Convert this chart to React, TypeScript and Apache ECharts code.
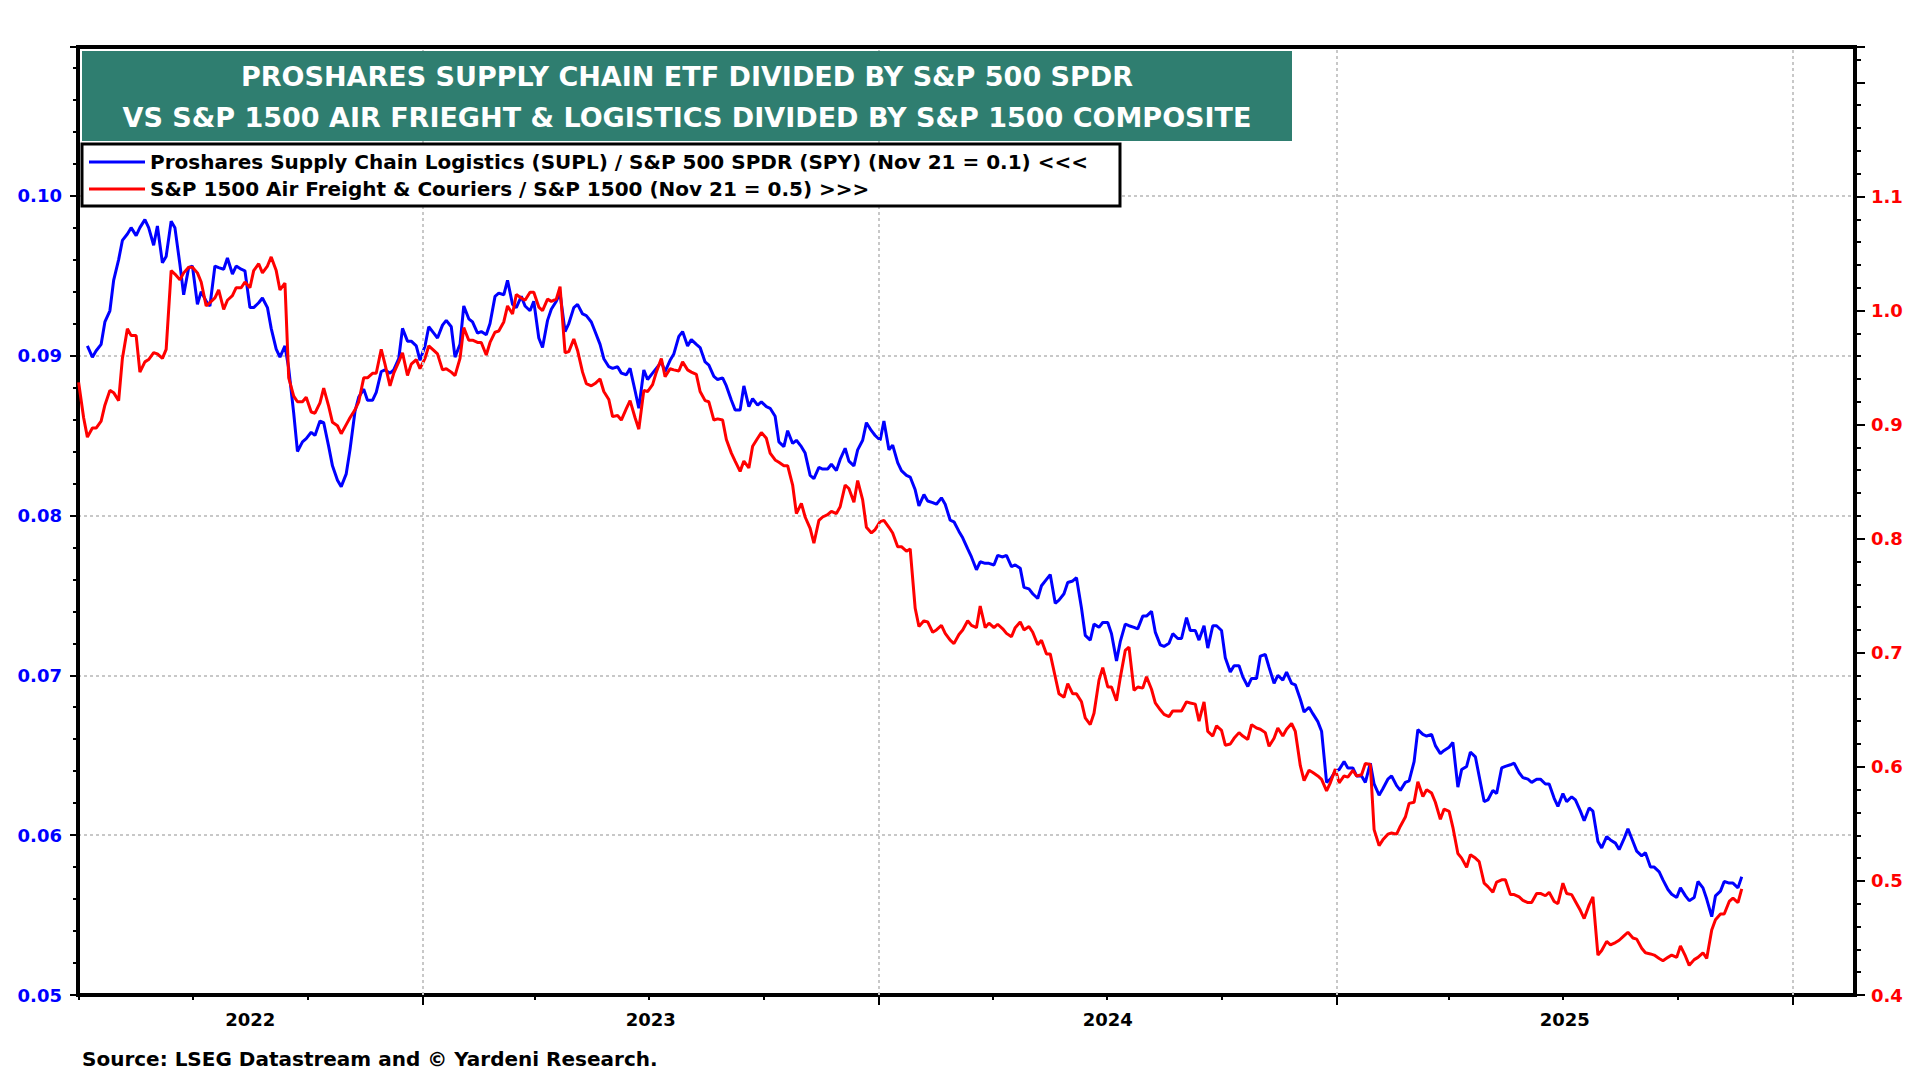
import React, { useEffect, useRef } from "react";
import * as echarts from "echarts";

const titleLines = [
  "PROSHARES SUPPLY CHAIN ETF DIVIDED BY S&P 500 SPDR",
  "VS S&P 1500 AIR FRIEGHT & LOGISTICS DIVIDED BY S&P 1500 COMPOSITE",
];
const seriesNames = [
  "Proshares Supply Chain Logistics (SUPL) / S&P 500 SPDR (SPY) (Nov 21 = 0.1) <<<",
  "S&P 1500 Air Freight & Couriers / S&P 1500 (Nov 21 = 0.5) >>>",
];
const sourceText = "Source: LSEG Datastream and \u00A9 Yardeni Research.";
const yearLabels = ["2022", "2023", "2024", "2025"];

// Observation calendar: Tuesday and Friday closes
const firstObs = "2022-04-01";
const lastObs = "2025-11-21";

// SUPL / SPY ratio (left axis)
const suplValues = [
  null, null, 0.0906, 0.0899, 0.0903, 0.0907, 0.0921, 0.0928, 0.0947, 0.0960,
  0.0972, 0.0976, 0.0980, 0.0975, 0.0980, 0.0985, 0.0980, 0.0969, 0.0981, 0.0958,
  0.0962, 0.0984, 0.0980, 0.0957, 0.0938, 0.0955, 0.0956, 0.0932, 0.0940, 0.0934,
  0.0931, 0.0956, 0.0955, 0.0954, 0.0961, 0.0951, 0.0956, 0.0954, 0.0953, 0.0930,
  0.0930, 0.0933, 0.0936, 0.0930, 0.0917, 0.0904, 0.0899, 0.0906, 0.0892, 0.0864,
  0.0840, 0.0846, 0.0848, 0.0852, 0.0850, 0.0859, 0.0858, 0.0843, 0.0831, 0.0822,
  0.0818, 0.0826, 0.0841, 0.0865, 0.0874, 0.0879, 0.0872, 0.0872, 0.0877, 0.0890,
  0.0891, 0.0889, 0.0891, 0.0898, 0.0917, 0.0909, 0.0909, 0.0906, 0.0897, 0.0906,
  0.0918, 0.0914, 0.0911, 0.0919, 0.0922, 0.0918, 0.0899, 0.0907, 0.0931, 0.0923,
  0.0921, 0.0914, 0.0915, 0.0913, 0.0920, 0.0937, 0.0939, 0.0938, 0.0947, 0.0932,
  0.0930, 0.0937, 0.0931, 0.0928, 0.0934, 0.0911, 0.0905, 0.0922, 0.0929, 0.0934,
  0.0939, 0.0915, 0.0920, 0.0930, 0.0932, 0.0926, 0.0925, 0.0921, 0.0915, 0.0907,
  0.0898, 0.0893, 0.0892, 0.0893, 0.0889, 0.0888, 0.0892, 0.0878, 0.0867, 0.0891,
  0.0885, 0.0889, 0.0892, 0.0896, 0.0890, 0.0897, 0.0901, 0.0912, 0.0915, 0.0906,
  0.0910, 0.0907, 0.0905, 0.0896, 0.0894, 0.0887, 0.0885, 0.0886, 0.0881, 0.0872,
  0.0866, 0.0866, 0.0881, 0.0868, 0.0873, 0.0869, 0.0871, 0.0868, 0.0867, 0.0862,
  0.0846, 0.0843, 0.0853, 0.0845, 0.0847, 0.0843, 0.0839, 0.0825, 0.0823, 0.0830,
  0.0829, 0.0829, 0.0832, 0.0828, 0.0835, 0.0842, 0.0834, 0.0831, 0.0841, 0.0847,
  0.0858, 0.0853, 0.0850, 0.0847, 0.0859, 0.0841, 0.0844, 0.0833, 0.0828, 0.0825,
  0.0824, 0.0816, 0.0806, 0.0813, 0.0809, 0.0808, 0.0807, 0.0811, 0.0807, 0.0797,
  0.0796, 0.0790, 0.0786, 0.0779, 0.0774, 0.0766, 0.0771, 0.0770, 0.0770, 0.0769,
  0.0775, 0.0774, 0.0775, 0.0768, 0.0769, 0.0767, 0.0755, 0.0754, 0.0751, 0.0748,
  0.0756, 0.0760, 0.0763, 0.0745, 0.0747, 0.0751, 0.0758, 0.0759, 0.0761, 0.0742,
  0.0725, 0.0722, 0.0732, 0.0730, 0.0733, 0.0733, 0.0726, 0.0709, 0.0721, 0.0732,
  0.0731, 0.0730, 0.0729, 0.0737, 0.0737, 0.0740, 0.0727, 0.0719, 0.0718, 0.0720,
  0.0726, 0.0723, 0.0723, 0.0736, 0.0728, 0.0728, 0.0722, 0.0731, 0.0717, 0.0731,
  0.0731, 0.0728, 0.0711, 0.0702, 0.0706, 0.0706, 0.0699, 0.0693, 0.0698, 0.0698,
  0.0712, 0.0713, 0.0705, 0.0695, 0.0700, 0.0697, 0.0702, 0.0695, 0.0694, 0.0685,
  0.0677, 0.0680, 0.0676, 0.0671, 0.0665, 0.0633, 0.0635, 0.0640, 0.0641, 0.0646,
  0.0642, 0.0642, 0.0637, 0.0637, 0.0633, 0.0645, 0.0632, 0.0625, 0.0629, 0.0635,
  0.0637, 0.0631, 0.0628, 0.0633, 0.0634, 0.0646, 0.0666, 0.0663, 0.0662, 0.0663,
  0.0656, 0.0651, 0.0653, 0.0655, 0.0658, 0.0630, 0.0641, 0.0643, 0.0652, 0.0649,
  0.0637, 0.0621, 0.0622, 0.0628, 0.0626, 0.0642, 0.0643, 0.0644, 0.0645, 0.0639,
  0.0636, 0.0635, 0.0633, 0.0635, 0.0635, 0.0632, 0.0632, 0.0623, 0.0618, 0.0626,
  0.0621, 0.0624, 0.0622, 0.0615, 0.0609, 0.0617, 0.0615, 0.0596, 0.0592, 0.0599,
  0.0597, 0.0595, 0.0591, 0.0598, 0.0604, 0.0596, 0.0590, 0.0587, 0.0589, 0.0580,
  0.0580, 0.0577, 0.0572, 0.0566, 0.0563, 0.0561, 0.0567, 0.0562, 0.0559, 0.0561,
  0.0571, 0.0567, 0.0560, 0.0549, 0.0562, 0.0565, 0.0571, 0.0570, 0.0570, 0.0567,
  0.0574,
];

// S&P 1500 Air Freight & Couriers / S&P 1500 (right axis)
const airValues = [
  0.937, 0.906, 0.889, 0.897, 0.897, 0.903, 0.917, 0.930, 0.928, 0.921,
  0.958, 0.984, 0.978, 0.978, 0.946, 0.955, 0.957, 0.963, 0.962, 0.958,
  0.966, 1.035, 1.032, 1.027, 1.033, 1.038, 1.038, 1.033, 1.025, 1.004,
  1.007, 1.011, 1.018, 1.001, 1.009, 1.013, 1.020, 1.020, 1.025, 1.020,
  1.035, 1.041, 1.033, 1.039, 1.047, 1.035, 1.018, 1.024, 0.941, 0.925,
  0.920, 0.920, 0.924, 0.911, 0.910, 0.919, 0.932, 0.916, 0.902, 0.899,
  0.892, 0.900, 0.906, 0.913, 0.920, 0.941, 0.941, 0.945, 0.945, 0.966,
  0.953, 0.934, 0.945, 0.955, 0.963, 0.943, 0.953, 0.957, 0.949, 0.958,
  0.969, 0.965, 0.962, 0.948, 0.949, 0.946, 0.943, 0.958, 0.985, 0.974,
  0.974, 0.972, 0.972, 0.961, 0.972, 0.981, 0.982, 0.990, 1.004, 0.997,
  1.014, 1.011, 1.009, 1.016, 1.016, 1.003, 1.000, 1.010, 1.008, 1.010,
  1.021, 0.963, 0.964, 0.975, 0.965, 0.946, 0.936, 0.934, 0.936, 0.940,
  0.929, 0.922, 0.907, 0.908, 0.904, 0.914, 0.921, 0.906, 0.896, 0.930,
  0.929, 0.935, 0.946, 0.958, 0.942, 0.949, 0.948, 0.947, 0.955, 0.948,
  0.946, 0.944, 0.929, 0.921, 0.920, 0.904, 0.905, 0.904, 0.887, 0.875,
  0.868, 0.859, 0.868, 0.862, 0.881, 0.888, 0.893, 0.888, 0.875, 0.869,
  0.867, 0.864, 0.864, 0.847, 0.822, 0.831, 0.819, 0.809, 0.796, 0.816,
  0.819, 0.821, 0.824, 0.822, 0.828, 0.847, 0.844, 0.832, 0.851, 0.834,
  0.810, 0.805, 0.808, 0.815, 0.816, 0.810, 0.805, 0.793, 0.793, 0.789,
  0.791, 0.739, 0.723, 0.728, 0.727, 0.718, 0.720, 0.724, 0.717, 0.711,
  0.708, 0.716, 0.720, 0.728, 0.724, 0.722, 0.741, 0.722, 0.726, 0.722,
  0.725, 0.721, 0.717, 0.714, 0.722, 0.727, 0.720, 0.723, 0.718, 0.707,
  0.711, 0.699, 0.699, 0.679, 0.664, 0.661, 0.673, 0.664, 0.664, 0.657,
  0.643, 0.637, 0.647, 0.676, 0.687, 0.670, 0.670, 0.658, 0.678, 0.702,
  0.705, 0.667, 0.670, 0.669, 0.679, 0.668, 0.656, 0.650, 0.646, 0.644,
  0.649, 0.649, 0.649, 0.657, 0.656, 0.655, 0.640, 0.657, 0.631, 0.627,
  0.636, 0.632, 0.619, 0.620, 0.625, 0.630, 0.627, 0.624, 0.637, 0.634,
  0.633, 0.630, 0.618, 0.625, 0.634, 0.627, 0.633, 0.638, 0.631, 0.601,
  0.588, 0.597, 0.595, 0.592, 0.589, 0.579, 0.586, 0.598, 0.586, 0.592,
  0.591, 0.597, 0.592, 0.593, 0.603, 0.602, 0.545, 0.531, 0.536, 0.541,
  0.542, 0.541, 0.548, 0.556, 0.568, 0.569, 0.587, 0.574, 0.580, 0.577,
  0.569, 0.554, 0.563, 0.561, 0.547, 0.524, 0.520, 0.512, 0.523, 0.520,
  0.517, 0.498, 0.495, 0.490, 0.499, 0.501, 0.501, 0.488, 0.488, 0.486,
  0.483, 0.481, 0.481, 0.489, 0.489, 0.487, 0.490, 0.482, 0.480, 0.498,
  0.489, 0.488, 0.482, 0.474, 0.467, 0.479, 0.486, 0.435, 0.439, 0.447,
  0.444, 0.446, 0.448, 0.452, 0.455, 0.450, 0.449, 0.441, 0.437, 0.436,
  0.435, 0.432, 0.430, 0.433, 0.435, 0.433, 0.443, 0.434, 0.426, 0.431,
  0.433, 0.437, 0.432, 0.457, 0.466, 0.471, 0.471, 0.482, 0.485, 0.481,
  0.493,
];

const FONT = "'DejaVu Sans', sans-serif";
const DAY = 86400000;
const X_MIN = Date.UTC(2022, 2, 31, 12);
const X_MAX = Date.UTC(2026, 1, 19, 14);

function buildObsDates(first: string, last: string): number[] {
  const out: number[] = [];
  const end = Date.parse(last + "T00:00:00Z");
  for (let t = Date.parse(first + "T00:00:00Z"); t <= end; t += DAY) {
    const wd = new Date(t).getUTCDay();
    if (wd === 2 || wd === 5) out.push(t);
  }
  return out;
}

function toPairs(dates: number[], values: (number | null)[]) {
  const out: [number, number][] = [];
  const n = Math.min(dates.length, values.length);
  for (let i = 0; i < n; i++) {
    const v = values[i];
    if (v !== null) out.push([dates[i], v]);
  }
  return out;
}

function buildOption() {
  const dates = buildObsDates(firstObs, lastObs);
  const quarterTicks: number[] = [];
  const yearTicks: number[] = [];
  for (let y = 2022; y <= 2026; y++) {
    for (const m of [0, 3, 6, 9]) {
      const t = Date.UTC(y, m, 1);
      if (t < X_MIN || t > X_MAX) continue;
      if (m === 0) yearTicks.push(t);
      else quarterTicks.push(t);
    }
  }
  const yearLabelPos = yearLabels.map((ys) => {
    const y = Number(ys);
    const s = Math.max(Date.UTC(y, 0, 1), X_MIN);
    const e = Math.min(Date.UTC(y + 1, 0, 1), X_MAX);
    return (s + e) / 2;
  });

  const axisLineStyle = { color: "#000", width: 4 };
  const gridLineStyle = { color: "#c8c8c8", width: 2, type: [3, 3] as any };

  return {
    animation: false,
    backgroundColor: "#ffffff",
    grid: {
      left: 78,
      right: 65,
      top: 47,
      bottom: 85,
      show: true,
      borderColor: "#000",
      borderWidth: 4,
      backgroundColor: "transparent",
      containLabel: false,
      outerBoundsMode: "none",
    },
    legend: {
      data: seriesNames,
      orient: "vertical",
      left: 82,
      top: 144,
      padding: [7, 32, 6, 7],
      itemGap: 5,
      itemWidth: 56,
      itemHeight: 3,
      icon: "rect",
      backgroundColor: "#ffffff",
      borderColor: "#000",
      borderWidth: 3,
      borderRadius: 0,
      selectedMode: false,
      z: 20,
      textStyle: {
        fontFamily: FONT,
        fontWeight: "bold",
        fontSize: 20,
        color: "#000",
        lineHeight: 22,
      },
    },
    xAxis: [
      {
        type: "value",
        min: X_MIN,
        max: X_MAX,
        position: "bottom",
        axisLine: { show: true, onZero: false, lineStyle: axisLineStyle },
        axisTick: {
          show: true,
          length: 5,
          customValues: quarterTicks,
          lineStyle: { color: "#000", width: 2 },
        },
        minorTick: { show: false },
        axisLabel: {
          show: true,
          customValues: yearLabelPos,
          formatter: (v: number) => String(new Date(v).getUTCFullYear()),
          color: "#000",
          fontFamily: FONT,
          fontWeight: "bold",
          fontSize: 18,
          margin: 15,
        },
        splitLine: { show: false },
      },
      {
        type: "value",
        min: X_MIN,
        max: X_MAX,
        position: "bottom",
        axisLine: { show: false, onZero: false },
        axisTick: {
          show: true,
          length: 10,
          customValues: yearTicks,
          lineStyle: { color: "#000", width: 2 },
        },
        axisLabel: { show: false },
        splitLine: { show: false },
      },
      {
        type: "value",
        min: X_MIN,
        max: X_MAX,
        position: "top",
        z: 5,
        axisLine: { show: true, onZero: false, lineStyle: axisLineStyle },
        axisTick: { show: false },
        axisLabel: { show: false },
        splitLine: { show: false },
      },
    ],
    yAxis: [
      {
        type: "value",
        position: "left",
        min: 0.05,
        max: 0.1093,
        interval: 0.01,
        axisLine: { show: true, onZero: false, lineStyle: axisLineStyle },
        axisTick: { show: true, inside: false, length: 8, lineStyle: { color: "#000", width: 2 } },
        minorTick: { show: true, splitNumber: 5, length: 5, lineStyle: { color: "#000", width: 2 } },
        axisLabel: {
          color: "#0000FF",
          fontFamily: FONT,
          fontWeight: "bold",
          fontSize: 18,
          margin: 16,
          showMaxLabel: false,
          formatter: (v: number) => (v > 0.1005 ? "" : v.toFixed(2)),
        },
        splitLine: { show: true, showMinLine: false, showMaxLine: false, lineStyle: gridLineStyle },
        minorSplitLine: { show: false },
      },
      {
        type: "value",
        position: "right",
        min: 0.4,
        max: 1.231,
        interval: 0.1,
        axisLine: { show: true, onZero: false, lineStyle: axisLineStyle },
        axisTick: { show: true, inside: false, length: 10, lineStyle: { color: "#000", width: 2 } },
        minorTick: { show: true, splitNumber: 5, length: 6, lineStyle: { color: "#000", width: 2 } },
        axisLabel: {
          color: "#FF0000",
          fontFamily: FONT,
          fontWeight: "bold",
          fontSize: 18,
          margin: 16,
          showMaxLabel: false,
          formatter: (v: number) => (v > 1.15 ? "" : v.toFixed(1)),
        },
        splitLine: { show: false },
      },
    ],
    series: [
      {
        name: "yearGrid",
        type: "line",
        xAxisIndex: 0,
        yAxisIndex: 0,
        data: [[X_MIN, 0.05]],
        symbol: "none",
        silent: true,
        lineStyle: { opacity: 0 },
        z: 1,
        markLine: {
          silent: true,
          symbol: ["none", "none"],
          label: { show: false },
          lineStyle: gridLineStyle,
          data: yearTicks.map((t) => ({ xAxis: t })),
        },
      },
      {
        name: seriesNames[0],
        type: "line",
        xAxisIndex: 0,
        yAxisIndex: 0,
        data: toPairs(dates, suplValues),
        symbol: "none",
        showSymbol: false,
        lineStyle: { color: "#0000FF", width: 3 },
        itemStyle: { color: "#0000FF" },
        z: 3,
      },
      {
        name: seriesNames[1],
        type: "line",
        xAxisIndex: 0,
        yAxisIndex: 1,
        data: toPairs(dates, airValues),
        symbol: "none",
        showSymbol: false,
        lineStyle: { color: "#FF0000", width: 3 },
        itemStyle: { color: "#FF0000" },
        z: 4,
      },
    ],
    graphic: [
      {
        type: "rect",
        z: 100,
        shape: { x: 82, y: 51, width: 1210, height: 90 },
        style: { fill: "#2F7E70" },
      },
      {
        type: "text",
        z: 101,
        x: 687,
        y: 76,
        style: {
          text: titleLines[0],
          fill: "#ffffff",
          font: "bold 27px 'DejaVu Sans'",
          textAlign: "center",
          textVerticalAlign: "middle",
        },
      },
      {
        type: "text",
        z: 101,
        x: 687,
        y: 117,
        style: {
          text: titleLines[1],
          fill: "#ffffff",
          font: "bold 27px 'DejaVu Sans'",
          textAlign: "center",
          textVerticalAlign: "middle",
        },
      },
      {
        type: "text",
        z: 101,
        x: 82,
        y: 1059,
        style: {
          text: sourceText,
          fill: "#000000",
          font: "bold 20px 'DejaVu Sans'",
          textAlign: "left",
          textVerticalAlign: "middle",
        },
      },
    ],
  };
}

export default function App() {
  const ref = useRef<HTMLDivElement>(null);
  useEffect(() => {
    if (!ref.current) return;
    const chart = echarts.init(ref.current, null, { renderer: "svg" });
    chart.setOption(buildOption() as any);
    return () => chart.dispose();
  }, []);
  return (
    <div
      ref={ref}
      style={{ position: "fixed", left: 0, top: 0, width: "1920px", height: "1080px", background: "#fff" }}
    />
  );
}
